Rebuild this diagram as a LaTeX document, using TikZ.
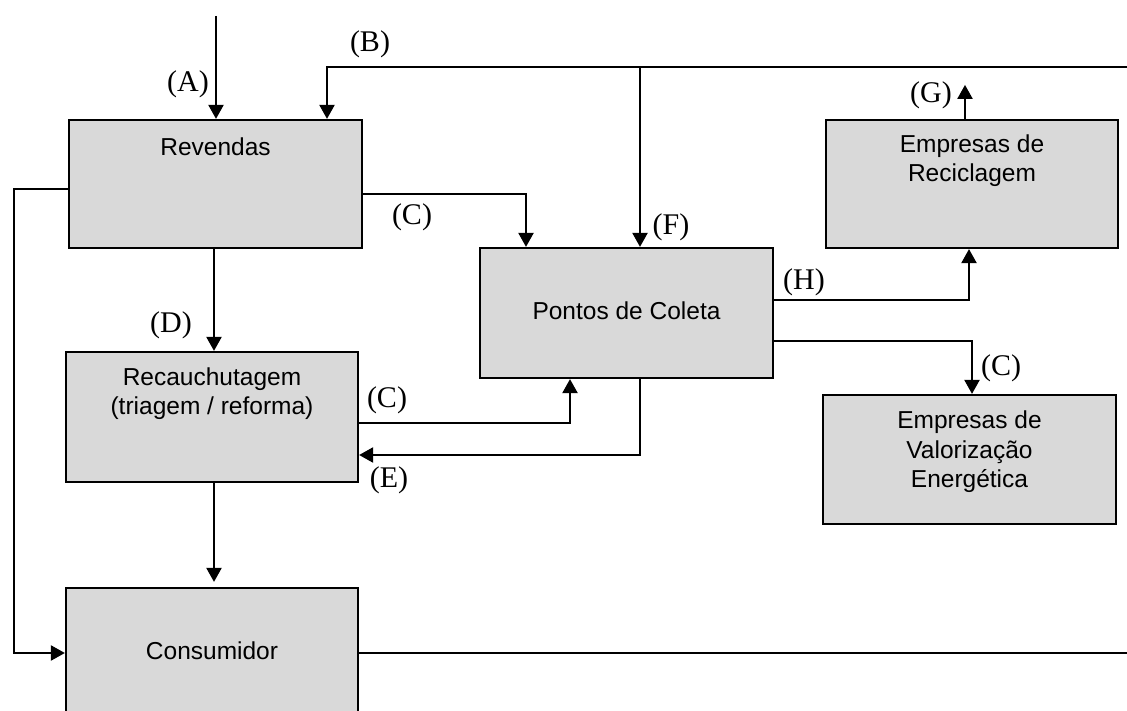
\documentclass[tikz,border=0pt]{standalone}
\usepackage{fontspec}
\setmainfont{Liberation Serif}
\setsansfont{Liberation Sans}
\usetikzlibrary{arrows.meta}
\begin{document}
\begin{tikzpicture}[x=1pt,y=-1pt,
  box/.style={draw=black,line width=2.2pt,fill=black!15,rectangle,inner sep=0pt},
  boxtext/.style={font=\fontsize{24.5}{29.5}\selectfont\sffamily,align=center,inner sep=0pt},
  lbl/.style={font=\fontsize{30}{32}\selectfont,inner sep=0pt},
  arr/.style={line width=2.2pt,-{Triangle[length=14pt,width=15pt]}},
  ln/.style={line width=2.2pt}]
\clip (0,0) rectangle (1127,711);
\fill[white] (0,0) rectangle (1127,711);

% boxes
\node[box,minimum width=293pt,minimum height=128pt] (rev) at (215.5,184) {};
\node[box,minimum width=292pt,minimum height=130pt] (rec) at (212,417) {};
\node[box,minimum width=292pt,minimum height=130pt] (con) at (212,653) {};
\node[box,minimum width=293pt,minimum height=130pt] (pon) at (626.5,313) {};
\node[box,minimum width=292pt,minimum height=128pt] (rcl) at (972,184) {};
\node[box,minimum width=293pt,minimum height=129pt] (val) at (969.5,459.5) {};

% box texts
\node[boxtext] (trev) at ([yshift=-28pt]rev.north) {Revendas};
\node[boxtext] (trec) at ([yshift=-43pt]rec.north) {Recauchutagem\\(triagem / reforma)};
\node[boxtext] (tcon) at ([yshift=-64pt]con.north) {Consumidor};
\node[boxtext] (tpon) at ([yshift=-64pt]pon.north) {Pontos de Coleta};
\node[boxtext] (trcl) at ([yshift=-42pt]rcl.north) {Empresas de\\Reciclagem};
\node[boxtext] (tval) at ([yshift=-58pt]val.north) {Empresas de\\Valorização\\Energética};

% free ends
\coordinate (aTop) at (216,16);
\coordinate (bR) at (1127,67);
\coordinate (fTop) at (640,67);
\coordinate (conR) at (1127,653);

% connectors
\draw[arr] (aTop) -- (aTop |- rev.north);
\draw[arr] (bR) -| ([xshift=111.5pt]rev.north);
\draw[arr] (fTop) -- ([xshift=13.5pt]pon.north);
\draw[arr] ([yshift=-10pt]rev.east) -| ([xshift=-100.5pt]pon.north);
\draw[arr] ([xshift=-1.5pt]rev.south) -- ([xshift=-1.5pt]rev.south |- rec.north);
\draw[arr] ([xshift=2pt]rec.south) -- ([xshift=2pt,yshift=5pt]con.north);
\draw[arr] ([yshift=-5pt]rev.west) -- ++(-54,0) |- (con.west);
\draw[ln] (con.east) -- (conR);
\draw[arr] ([yshift=-6pt]rec.east) -| ([xshift=-56.5pt]pon.south);
\draw[arr] ([xshift=13.5pt]pon.south) |- ([yshift=-38pt]rec.east);
\draw[arr] ([yshift=13pt]pon.east) -| ([xshift=-3pt]rcl.south);
\draw[arr] ([yshift=-28pt]pon.east) -| ([xshift=2.5pt]val.north);
\draw[arr] ([xshift=-7pt]rcl.north) -- ++(0,-34);

% labels
\node[lbl] (lA) at (188,84) {(A)};
\node[lbl] (lB) at (370,44) {(B)};
\node[lbl] (lC1) at (412,217) {(C)};
\node[lbl] (lF) at (671,227) {(F)};
\node[lbl] (lG) at (931,95) {(G)};
\node[lbl] (lH) at (804,282) {(H)};
\node[lbl] (lD) at (171,325) {(D)};
\node[lbl] (lC2) at (387,400) {(C)};
\node[lbl] (lE) at (389,480) {(E)};
\node[lbl] (lC3) at (1001,368) {(C)};
\end{tikzpicture}
\end{document}
